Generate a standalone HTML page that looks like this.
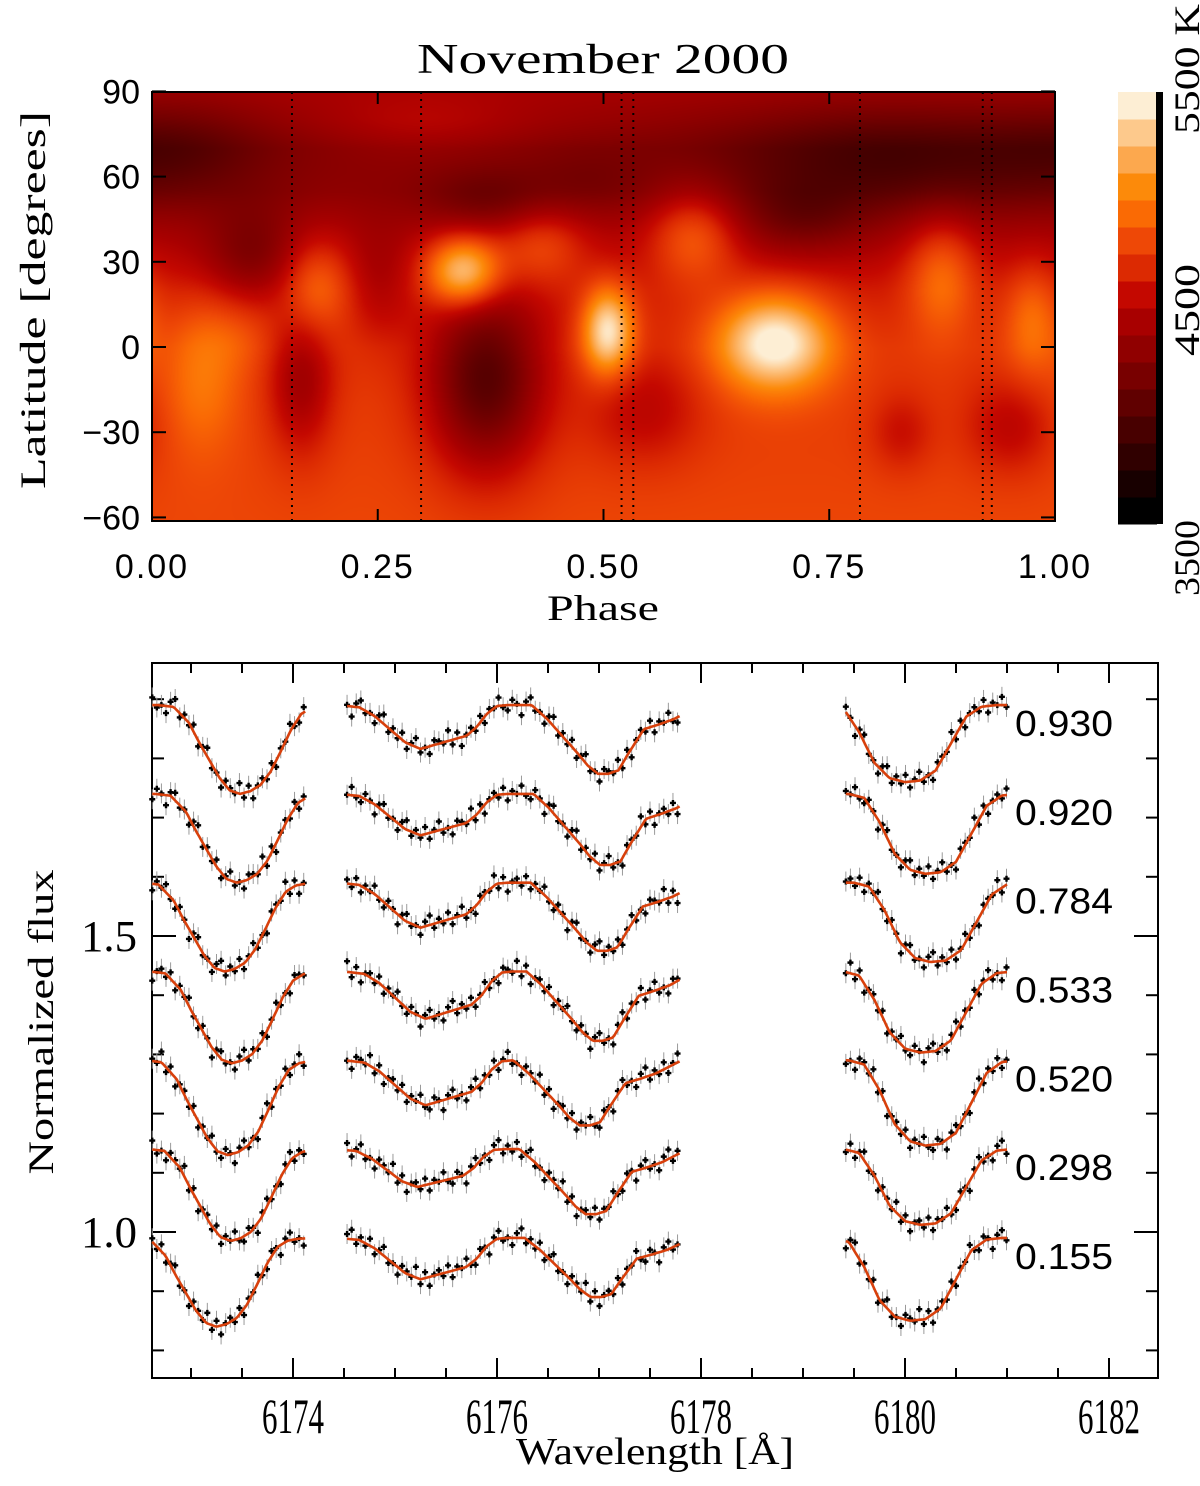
<!DOCTYPE html>
<html><head><meta charset="utf-8">
<style>
html,body{margin:0;padding:0;background:#fff;}
#wrap{position:relative;width:1200px;height:1486px;overflow:hidden;background:#fff;}
svg text{font-family:"Liberation Sans",sans-serif;fill:#000;}
.serif{font-family:"Liberation Serif",serif;}
</style></head>
<body>
<div id="wrap">
<canvas id="heat" width="903" height="429" style="position:absolute;left:152px;top:92px;"></canvas>
<svg id="svg" width="1200" height="1486" style="position:absolute;left:0;top:0;" xmlns="http://www.w3.org/2000/svg">
<text x="603" y="73" font-size="42" text-anchor="middle" textLength="372" lengthAdjust="spacingAndGlyphs" class="serif">November 2000</text>
<text x="603" y="620" font-size="36" text-anchor="middle" textLength="112" lengthAdjust="spacingAndGlyphs" class="serif">Phase</text>
<text transform="translate(45,300) rotate(-90)" font-size="36" text-anchor="middle" textLength="378" lengthAdjust="spacingAndGlyphs" class="serif">Latitude [degrees]</text>
<text x="655" y="1464" font-size="38" text-anchor="middle" textLength="278" lengthAdjust="spacingAndGlyphs" class="serif">Wavelength [Å]</text>
<text transform="translate(53,1022) rotate(-90)" font-size="36" text-anchor="middle" textLength="305" lengthAdjust="spacingAndGlyphs" class="serif">Normalized flux</text>
<g id="topg"></g>
<g id="cbar"></g>
<g id="bottom"></g>
</svg>
</div>
<script>
// ---------- Top map data ----------
const obsPhases = [0.155, 0.298, 0.520, 0.533, 0.784, 0.920, 0.930];
const phaseTicks = [0, 0.25, 0.5, 0.75, 1.0];
const phaseTickLabels = ["0.00", "0.25", "0.50", "0.75", "1.00"];
const latTicks = [90, 60, 30, 0, -30, -60];
const latTickLabels = ["90", "60", "30", "0", "\u221230", "\u221260"];
const baseLat = [-62, -40, -20, 0, 20, 40, 55, 70, 80, 90];
const baseTemp = [4820, 4800, 4780, 4740, 4620, 4450, 4300, 4250, 4350, 4420];
const spotPhase = [0.345, 0.505, 0.69, 0.60, 0.055, 0.18, 0.43, 0.875, 0.975, 0.37, 0.165, 0.545, 0.83, 0.95, 0.37, 0.82, 0.03, 0.11, 0.25, 0.72, 0.48, 0.30, 0.10];
const spotLat   = [27, 6, 2, 40, -8, 22, 36, 26, 10, -12, -12, -22, -30, -28, 52, 66, 70, 32, 22, 45, 58, 78, 5];
const spotWP    = [0.030, 0.020, 0.045, 0.035, 0.03, 0.028, 0.035, 0.028, 0.022, 0.045, 0.025, 0.045, 0.025, 0.035, 0.05, 0.14, 0.07, 0.04, 0.025, 0.05, 0.05, 0.08, 0.03];
const spotWL    = [9, 11, 12, 12, 20, 12, 10, 15, 14, 22, 18, 14, 10, 12, 8, 14, 12, 12, 14, 9, 8, 8, 10];
const spotAmp   = [850, 800, 850, 420, 260, 380, 330, 380, 300, -780, -380, -260, -200, -260, -220, -380, -200, -320, -150, -250, -120, 150, 120];
const cbarLabels = ["3500", "4500", "5500 K"];
const cbarColors = ["#000000","#180000","#300000","#480000","#600000","#780000","#900000","#a80000","#c40800","#dc2a02","#ee4806","#fa6a04","#fc8a0a","#fca84e","#fdc98c","#fdeed4"];

// ---------- Spectra data ----------
const specPhases = ["0.155","0.298","0.520","0.533","0.784","0.920","0.930"];
const specOffset = [0, 0.15, 0.30, 0.45, 0.60, 0.75, 0.90];
const seg1Centre = [6173.25, 6173.39, 6173.36, 6173.40, 6173.33, 6173.45, 6173.48];
const seg1Depth  = [0.150, 0.155, 0.160, 0.155, 0.150, 0.150, 0.150];
const dipACentre = [6175.25, 6175.22, 6175.30, 6175.30, 6175.25, 6175.25, 6175.25];
const dipADepth  = [0.070, 0.064, 0.076, 0.080, 0.076, 0.070, 0.074];
const dipBCentre = [6176.92, 6176.87, 6176.81, 6176.94, 6176.98, 6177.01, 6176.99];
const dipBDepth  = [0.100, 0.110, 0.110, 0.117, 0.115, 0.120, 0.116];
const seg3Centre = [6180.05, 6180.15, 6180.20, 6180.15, 6180.25, 6180.20, 6180.00];
const seg3Depth  = [0.140, 0.128, 0.144, 0.137, 0.134, 0.135, 0.130];
const tpl1Off = [-0.8,-0.65,-0.5,-0.4,-0.3,-0.2,-0.1,0,0.1,0.2,0.3,0.4,0.5,0.6,0.7,0.8,0.95];
const tpl1F   = [0,0.02,0.2,0.42,0.62,0.82,0.96,1,0.97,0.9,0.75,0.52,0.28,0.1,0.03,0.01,0];
const tplAOff = [-0.8,-0.6,-0.45,-0.3,-0.15,0,0.15,0.3,0.45,0.55,0.65,0.75,0.85];
const tplAF   = [0,0.05,0.25,0.55,0.85,1,0.9,0.8,0.7,0.5,0.2,0.02,0];
const tplBOff = [-0.65,-0.5,-0.35,-0.2,-0.1,0,0.1,0.2,0.3,0.45,0.6,0.75,0.9,1.0];
const tplBF   = [0,0.2,0.45,0.7,0.88,1,1,0.95,0.7,0.35,0.28,0.2,0.08,0];
const tpl3Off = [-0.75,-0.6,-0.45,-0.3,-0.15,0,0.15,0.3,0.45,0.6,0.75,0.9];
const tpl3F   = [0,0.05,0.35,0.75,0.95,1,0.98,0.85,0.5,0.15,0.02,0];
const segStart = [6172.62, 6174.53, 6179.42];
const segEnd   = [6174.13, 6177.80, 6181.00];
const residuals = [0.006,-0.004,0.012,-0.010,0.003,0.015,-0.006,0.000,-0.013,0.008,0.004,-0.002,0.018,-0.008,0.010,-0.015,0.002,0.007,-0.005,0.011,-0.011,0.005,0.000,0.014,-0.003,-0.009,0.009,0.002,-0.017,0.006,0.013,-0.004,0.001,-0.012,0.008,0.016,-0.007];
const waveTicks = [6174, 6176, 6178, 6180, 6182];
const fluxTicks = [1.0, 1.5];

const NS = "http://www.w3.org/2000/svg";
function el(tag, attrs, parent, txt){const e=document.createElementNS(NS,tag);for(const k in attrs)e.setAttribute(k,attrs[k]);if(txt!==undefined)e.textContent=txt;parent.appendChild(e);return e;}

const TX0=152, TX1=1055, TY0=92, TY1=521;
const px = p => TX0 + p*(TX1-TX0);
const ly = lat => 347 - lat*(85.2/30);
function interp(xs, ys, x){ if(x<=xs[0])return ys[0]; if(x>=xs[xs.length-1])return ys[ys.length-1]; for(let i=1;i<xs.length;i++){ if(x<=xs[i]){const t=(x-xs[i-1])/(xs[i]-xs[i-1]);return ys[i-1]+t*(ys[i]-ys[i-1]);} } return ys[ys.length-1]; }
function hex(c){return [parseInt(c.substr(1,2),16),parseInt(c.substr(3,2),16),parseInt(c.substr(5,2),16)];}
const cmapRGB = cbarColors.map(hex);
function tempColor(T){ let f=(T-3500)/2000*(cmapRGB.length-1); f=Math.max(0,Math.min(cmapRGB.length-1,f)); const i=Math.floor(f), t=f-i; const a=cmapRGB[i], b=cmapRGB[Math.min(i+1,cmapRGB.length-1)]; return [a[0]+(b[0]-a[0])*t,a[1]+(b[1]-a[1])*t,a[2]+(b[2]-a[2])*t]; }
(function(){
 const cv=document.getElementById('heat'); const ctx=cv.getContext('2d'); const W=cv.width,H=cv.height; const img=ctx.createImageData(W,H);
 for(let y=0;y<H;y++){ const lat=(347-(y+TY0))*(30/85.2); const bt=interp(baseLat,baseTemp,lat);
  for(let x=0;x<W;x++){ const ph=x/(W-1); let T=bt;
   for(let s=0;s<spotPhase.length;s++){ let dp=ph-spotPhase[s]; if(dp>0.5)dp-=1; if(dp<-0.5)dp+=1; const dl=lat-spotLat[s]; T+=spotAmp[s]*Math.exp(-0.5*(dp*dp/(spotWP[s]*spotWP[s])+dl*dl/(spotWL[s]*spotWL[s]))); }
   const c=tempColor(T); const k=(y*W+x)*4; img.data[k]=c[0];img.data[k+1]=c[1];img.data[k+2]=c[2];img.data[k+3]=255; } }
 ctx.putImageData(img,0,0);
})();
const topG=document.getElementById('topg');
obsPhases.forEach(p=>{ const l=el('line',{x1:px(p),x2:px(p),y1:TY0,y2:TY1,stroke:'#000','stroke-width':2,'stroke-dasharray':'2,5'},topG);
 
  });
{const r=el('rect',{x:TX0,y:TY0,width:TX1-TX0,height:TY1-TY0,fill:'none',stroke:'#000','stroke-width':2},topG);
 
 }
phaseTicks.forEach((p,i)=>{ el('line',{x1:px(p),x2:px(p),y1:TY1,y2:TY1-12,stroke:'#000','stroke-width':2},topG); el('line',{x1:px(p),x2:px(p),y1:TY0,y2:TY0+12,stroke:'#000','stroke-width':2},topG);
 const t=el('text',{x:px(p),y:578,'font-size':34,'text-anchor':'middle','letter-spacing':2},topG,phaseTickLabels[i]);
 
  });
latTicks.forEach((l,i)=>{ el('line',{x1:TX0,x2:TX0+14,y1:ly(l),y2:ly(l),stroke:'#000','stroke-width':2},topG); el('line',{x1:TX1,x2:TX1-14,y1:ly(l),y2:ly(l),stroke:'#000','stroke-width':2},topG);
 const t=el('text',{x:140,y:ly(l)+12,'font-size':34,'text-anchor':'end'},topG,latTickLabels[i]);
 
  });
// colour bar
const cb=document.getElementById('cbar'); const CBX=1118, CBW=39, CBY0=92, CBY1=524; const bh=(CBY1-CBY0)/cbarColors.length;
cbarColors.forEach((c,i)=>{ const r=el('rect',{x:CBX,y:CBY1-(i+1)*bh,width:CBW,height:bh+0.5,fill:c},cb);
 
  });
el('rect',{x:1156,y:CBY0,width:7,height:CBY1-CBY0,fill:'#000'},cb);
const cbLabelPos = [[596,'start',76],[310,'middle',92],[134,'start',130]];
cbarLabels.forEach((s,i)=>{
 const t=el('text',{transform:`translate(1199,${cbLabelPos[i][0]}) rotate(-90)`,'font-size':36,'text-anchor':cbLabelPos[i][1],textLength:cbLabelPos[i][2],lengthAdjust:'spacingAndGlyphs',class:'serif'},cb,s);
 
  });

// ---------- Bottom axes ----------
const BX0=152, BX1=1158, BY0=663, BY1=1378;
const wx = w => 293 + (w-6174)*102;
const fy = f => 1232 - (f-1)*592;
const bot=document.getElementById('bottom');
{const r=el('rect',{x:BX0,y:BY0,width:BX1-BX0,height:BY1-BY0,fill:'none',stroke:'#000','stroke-width':2},bot);
 
 }
for(let k=0; k<=18; k++){ const w=6173+k*0.5; const major=(k%4===2); const L=major?20:10;
 el('line',{x1:wx(w),x2:wx(w),y1:BY1,y2:BY1-L,stroke:'#000','stroke-width':2},bot); el('line',{x1:wx(w),x2:wx(w),y1:BY0,y2:BY0+L,stroke:'#000','stroke-width':2},bot); }
waveTicks.forEach(w=>{ const t=el('text',{x:wx(w),y:1433,'font-size':50,'text-anchor':'middle',textLength:62,lengthAdjust:'spacingAndGlyphs',class:'serif'},bot,String(w));
 
  });
for(let k=8;k<=19;k++){ const f=k/10; const major=(k%5===0); const L=major?24:12;
 el('line',{x1:BX0,x2:BX0+L,y1:fy(f),y2:fy(f),stroke:'#000','stroke-width':2},bot); el('line',{x1:BX1,x2:BX1-L,y1:fy(f),y2:fy(f),stroke:'#000','stroke-width':2},bot); }
fluxTicks.forEach(f=>{ const t=el('text',{x:137,y:fy(f)+15,'font-size':44,'text-anchor':'end',textLength:56,lengthAdjust:'spacingAndGlyphs',class:'serif'},bot,f.toFixed(1));
 
  });

function model(i, w){
 const cont=0.99+specOffset[i];
 if(w<=segEnd[0]+0.01) return cont - seg1Depth[i]*interp(tpl1Off,tpl1F,w-seg1Centre[i]);
 if(w<=segEnd[1]+0.01) return cont - dipADepth[i]*interp(tplAOff,tplAF,w-dipACentre[i]) - dipBDepth[i]*interp(tplBOff,tplBF,w-dipBCentre[i]);
 return cont - seg3Depth[i]*interp(tpl3Off,tpl3F,w-seg3Centre[i]);
}
specPhases.forEach((ph,i)=>{
 const g=el('g',{},bot);
 
 
 let ri=i*5;
 for(let s=0;s<3;s++){
  const n=Math.floor((segEnd[s]-segStart[s])/0.045+1e-6);
  for(let j=0;j<=n;j++){
   const w=segStart[s]+j*0.045;
   const f=model(i,w)+residuals[ri%residuals.length]; ri++;
   el('line',{x1:wx(w),x2:wx(w),y1:fy(f)-10,y2:fy(f)+10,stroke:'#9a9a9a','stroke-width':1},g);
   const p=el('path',{d:`M${wx(w)-3},${fy(f)}h6M${wx(w)},${fy(f)-3}v6`,stroke:'#000','stroke-width':2.4},g);
   
   
  }
  let d='';
  const m2=Math.floor((segEnd[s]-segStart[s])/0.02+1e-6);
  for(let j=0;j<=m2;j++){ const w=segStart[s]+j*0.02; d+=(d?'L':'M')+wx(w).toFixed(1)+','+fy(model(i,w)).toFixed(1); }
  const m=el('path',{d:d,fill:'none',stroke:'#d8400c','stroke-width':2.6},g);
  
  
 }
 const t=el('text',{x:1015,y:fy(0.99+specOffset[i])+31,'font-size':36,textLength:98,lengthAdjust:'spacingAndGlyphs'},g,ph);
 
 
});
</script>
</body></html>
